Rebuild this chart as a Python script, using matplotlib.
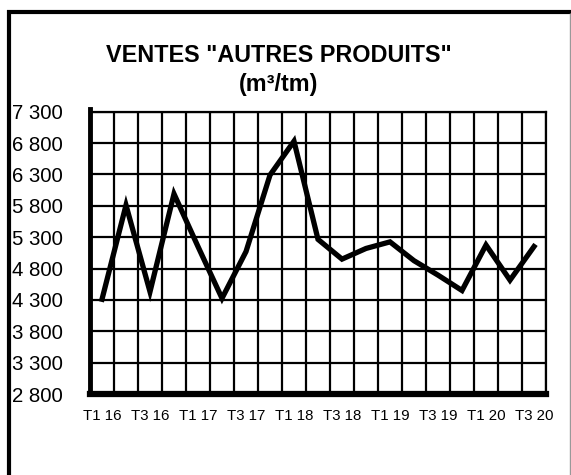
import matplotlib
matplotlib.use("Agg")
import matplotlib.pyplot as plt
from matplotlib.lines import Line2D
import numpy as np

plt.rcParams['font.family'] = ['Liberation Sans', 'DejaVu Sans']

quarters = ["T1 16", "T2 16", "T3 16", "T4 16",
            "T1 17", "T2 17", "T3 17", "T4 17",
            "T1 18", "T2 18", "T3 18", "T4 18",
            "T1 19", "T2 19", "T3 19", "T4 19",
            "T1 20", "T2 20", "T3 20"]
ventes = [4310, 5810, 4430, 5990,
          5150, 4325, 5070, 6290,
          6830, 5265, 4950, 5120,
          5225, 4925, 4695, 4450,
          5175, 4615, 5150]
y_ticks = [2800, 3300, 3800, 4300, 4800, 5300, 5800, 6300, 6800, 7300]
y_labels = ["2 800", "3 300", "3 800", "4 300", "4 800", "5 300", "5 800", "6 300", "6 800", "7 300"]

W, H = 571, 475
fig = plt.figure(figsize=(W / 100, H / 100), dpi=100)

ax = fig.add_axes([90 / W, 1 - 394 / H, (546 - 90) / W, (394 - 111.7) / H])
n = len(quarters)
x = np.arange(n)
ax.set_xlim(-0.5, n - 0.5)
ax.set_ylim(2800, 7300)

# gridlines at category boundaries and value ticks
for b in np.arange(-0.5, n, 1.0):
    ax.axvline(b, color='black', lw=1.6, zorder=1)
for v in y_ticks:
    ax.axhline(v, color='black', lw=1.6, zorder=1)

ax.plot(x, ventes, color='black', lw=3.8, solid_joinstyle='miter', zorder=3)

ax.set_yticks(y_ticks)
ax.set_yticklabels(y_labels, fontsize=14.7, ha='left')
ax.tick_params(axis='y', length=0, pad=56)
ax.set_xticks(x[::2])
ax.set_xticklabels(quarters[::2], fontsize=10.8)
ax.tick_params(axis='x', length=0, pad=11)

for s in ['top', 'right']:
    ax.spines[s].set_linewidth(1.6)
ax.spines['left'].set_linewidth(3.5)
ax.spines['bottom'].set_linewidth(4.5)
ax.spines['bottom'].set_capstyle('projecting')
ax.spines['left'].set_capstyle('projecting')
ax.spines['left'].set_bounds(2800, 7340)

fig.text(278.5 / W, 1 - 56 / H, 'VENTES "AUTRES PRODUITS"', ha='center', va='center',
         fontsize=16.8, fontweight='bold')
fig.text(278.5 / W, 1 - 85 / H, '(m³/tm)', ha='center', va='center',
         fontsize=16.8, fontweight='bold')

# outer frame
fig.add_artist(Line2D([7 / W, 1], [1 - 11.5 / H, 1 - 11.5 / H], transform=fig.transFigure,
                      color='black', lw=3, solid_capstyle='butt'))
fig.add_artist(Line2D([8.5 / W, 8.5 / W], [1 - 10 / H, 0], transform=fig.transFigure,
                      color='black', lw=3, solid_capstyle='butt'))
fig.add_artist(Line2D([569.5 / W, 569.5 / W], [1 - 13 / H, 0], transform=fig.transFigure,
                      color='#999999', lw=1, solid_capstyle='butt'))

fig.savefig('out.png', dpi=100)
